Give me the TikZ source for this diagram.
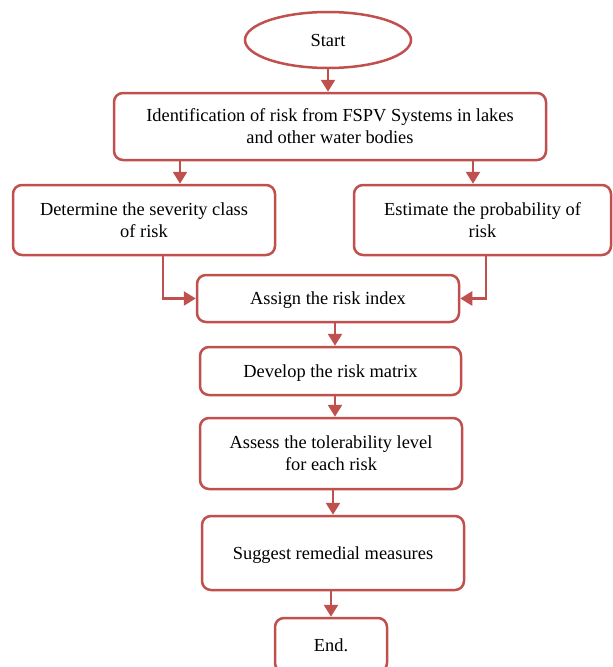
\documentclass[tikz,border=0pt]{standalone}
\usepackage{fontspec}
\setmainfont{Liberation Serif}
\usetikzlibrary{arrows.meta,shapes.geometric}
\definecolor{flowred}{HTML}{C0504D}
\tikzset{
  stepbox/.style={draw=flowred,line width=2.5pt,rounded corners=9pt,align=center,
    font=\fontsize{18.4}{22}\selectfont,inner sep=0pt,text depth=0pt},
  flowarrow/.style={draw=flowred,line width=2.5pt,-{Triangle[width=14pt,length=12pt]}}
}
\begin{document}
\begin{tikzpicture}[x=1pt,y=-1pt]
        \useasboundingbox (0,0) rectangle (613,667);
        %% start and identification
        \node[stepbox,ellipse,rounded corners=0pt,minimum width=166pt,minimum height=56pt] (start) at (328,40) {Start};
        \node[stepbox,minimum width=432pt,minimum height=67pt] (identify) at (330,126.5)
            {Identification of risk from FSPV Systems in lakes\\and other water bodies};
        %% the two branches
        \node[stepbox,minimum width=262pt,minimum height=70pt] (severity) at (144,220)
            {Determine the severity class\\of risk};
        \node[stepbox,minimum width=257pt,minimum height=70pt] (probability) at (482.5,220)
            {Estimate the probability of\\risk};
        %% main column
        \node[stepbox,minimum width=262pt,minimum height=47pt] (assign) at (328,298.5) {Assign the risk index};
        \node[stepbox,minimum width=261pt,minimum height=48pt] (develop) at (330.5,371) {Develop the risk matrix};
        \node[stepbox,minimum width=262pt,minimum height=71pt] (assess) at (331,453.5)
            {Assess the tolerability level\\for each risk};
        \node[stepbox,minimum width=262pt,minimum height=74pt] (suggest) at (333,553) {Suggest remedial measures};
        \node[stepbox,minimum width=112pt,minimum height=54pt] (stop) at (331,645) {End.};
        %% arrows
        \draw[flowarrow] (start.south) -- (start.south |- identify.north);
        \draw[flowarrow] ([xshift=36pt]severity.north |- identify.south) -- ([xshift=36pt]severity.north);
        \draw[flowarrow] ([xshift=-9.5pt]probability.north |- identify.south) -- ([xshift=-9.5pt]probability.north);
        \draw[flowarrow] ([xshift=19pt]severity.south) |- (assign.west);
        \draw[flowarrow] ([xshift=3.5pt]probability.south) |- (assign.east);
        \draw[flowarrow] ([xshift=7pt]assign.south) -- ([xshift=7pt]assign.south |- develop.north);
        \draw[flowarrow] ([xshift=4.5pt]develop.south) -- ([xshift=4.5pt]develop.south |- assess.north);
        \draw[flowarrow] (assess.south -| suggest.north) -- (suggest.north);
        \draw[flowarrow] (suggest.south -| stop.north) -- (stop.north);
    \end{tikzpicture}
\end{document}
